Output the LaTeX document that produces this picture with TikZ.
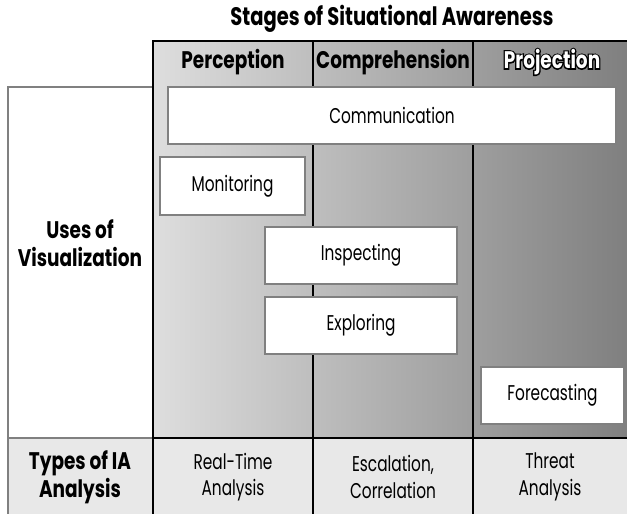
\documentclass[tikz,border=0pt]{standalone}
\usepackage{fontspec}
\setmainfont[FakeStretch=0.72,BoldFeatures={FakeStretch=0.77}]{Poppins}
\usetikzlibrary{positioning}

\tikzset{
  usebox/.style={draw=gray,fill=white,line width=1.5pt},
  cell/.style={font=\fontsize{16}{20}\selectfont,align=center},
  hdr/.style={font=\bfseries\fontsize{18}{21}\selectfont,align=center},
  divider/.style={line width=1.3pt},
  frame/.style={draw=gray,line width=1.3pt}
}
% white letters with a black rim
\newcommand{\outlined}[1]{\rlap{\color{black}\special{pdf:literal 2 Tr 2 w 0 G}#1\special{pdf:literal 0 Tr}}#1}

\begin{document}
\begin{tikzpicture}[x=0.75pt,y=-0.75pt]
  \useasboundingbox (0,0) rectangle (627,514);
  % backgrounds
  \shade[left color=black!13,right color=black!50] (153,41) rectangle (627,438);
  \fill[black!9] (8,438) rectangle (627,514);
  \fill[white] (8,87) rectangle (153,438);
  % frame lines
  \draw[frame] (153,87) -- (8,87) -- (8,514);
  \draw[frame] (8,438) -- (153,438);
  \draw[divider] (627,41) -- (153,41) -- (153,514);
  \draw[divider] (313,41) -- (313,514);
  \draw[divider] (473,41) -- (473,514);
  \draw[divider] (153,438) -- (627,438);
  % title and stage headers
  \node[hdr,font=\bfseries\fontsize{19}{21}\selectfont] (title) at (392,19) {Stages of Situational Awareness};
  \node[hdr] (perc) at (233,62) {Perception};
  \node[hdr] (comp) at (393,62) {Comprehension};
  \node[hdr,text=white] (proj) at (552,62) {\outlined{Projection}};
  % row headers
  \node[hdr] (uses) at (80,243) {Uses of\\Visualization};
  \node[hdr] (types) at (80,477) {Types of IA\\Analysis};
  % uses of visualization
  \draw[usebox] (168,87) rectangle (616,144) node[midway,cell] (comm) {Communication};
  \draw[usebox] (160,157) rectangle (305,215) node[midway,cell] (mon) {Monitoring};
  \draw[usebox] (265,227) rectangle (457,284) node[midway,cell] (insp) {Inspecting};
  \draw[usebox] (265,297) rectangle (457,354) node[midway,cell] (expl) {Exploring};
  \draw[usebox] (481,367) rectangle (624,424) node[midway,cell] (fore) {Forecasting};
  % types of analysis
  \node[cell] (rt) at (233,477) {Real-Time\\Analysis};
  \node[cell] (esc) at (393,477) {Escalation,\\Correlation};
  \node[cell] (thr) at (550,477) {Threat\\Analysis};
\end{tikzpicture}
\end{document}
